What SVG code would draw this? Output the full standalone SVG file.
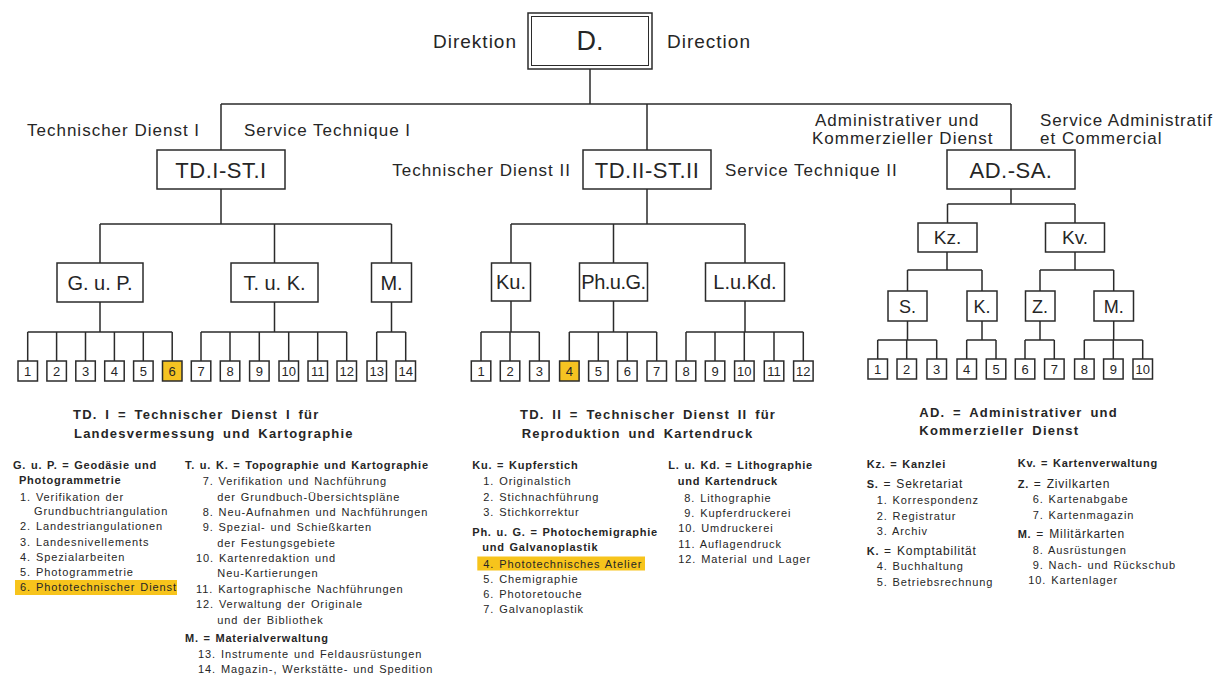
<svg xmlns="http://www.w3.org/2000/svg" width="1222" height="675" viewBox="0 0 1222 675">
<style>
.bx{fill:#fff;stroke:#2b2b2b;stroke-width:1.5}
.hl{fill:#f5c322;stroke:#2b2b2b;stroke-width:1.5}
.ln{fill:none;stroke:#2b2b2b;stroke-width:1.5}
text{font-family:"Liberation Sans",Arial,sans-serif;fill:#262626}
.lbl{font-size:17px;letter-spacing:1px}
.big{font-size:22px;text-anchor:middle;letter-spacing:0.5px}
.mid{font-size:20px;text-anchor:middle}
.sm{font-size:18px;text-anchor:middle}
.num{font-size:13px;text-anchor:middle}
.hd{font-size:13px;font-weight:bold;letter-spacing:1.2px;word-spacing:3px}
.b{font-size:11px;font-weight:bold;letter-spacing:0.75px;word-spacing:1px}
.r{font-size:11px;letter-spacing:0.9px;word-spacing:1px}
.r2{font-size:12px;letter-spacing:0.8px;font-weight:normal}
.mark{fill:#f7c41c}
</style>

<g id="connectors">
  <path class="ln" d="M590,69V104M221,104H1011M221,104V150M647,104V150M1011,104V150"/>
  <!-- TD I -->
  <path class="ln" d="M221,189V224M100,224H391.5M100,224V263M274.5,224V263M391.5,224V263"/>
  <path class="ln" d="M100,302V332M27.7,332H172.2M27.7,332V361M56.6,332V361M85.5,332V361M114.4,332V361M143.3,332V361M172.2,332V361"/>
  <path class="ln" d="M274.5,302V332M201,332H346.7M201,332V361M230,332V361M259.3,332V361M288.7,332V361M317.7,332V361M346.7,332V361"/>
  <path class="ln" d="M391.5,302V332M376.7,332H405.7M376.7,332V361M405.7,332V361"/>
  <!-- TD II -->
  <path class="ln" d="M647,189V224M511,224H745M511,224V263M613.5,224V263M745,224V263"/>
  <path class="ln" d="M511,301V332M481,332H539.3M481,332V361M510,332V361M539.3,332V361"/>
  <path class="ln" d="M613.5,301V332M569.3,332H656.7M569.3,332V361M598.3,332V361M627.3,332V361M656.7,332V361"/>
  <path class="ln" d="M745,301V332M686,332H803.3M686,332V361M715,332V361M744.3,332V361M774,332V361M803.3,332V361"/>
  <!-- AD -->
  <path class="ln" d="M1011,189V204M947.5,204H1075M947.5,204V223M1075,204V223"/>
  <path class="ln" d="M947,252V270M907.5,270H982M907.5,270V291M982,270V291"/>
  <path class="ln" d="M1075,252V270M1040,270H1113.7M1040,270V291M1113.7,270V291"/>
  <path class="ln" d="M907.5,321V340M877.7,340H936.7M877.7,340V359M906.7,340V359M936.7,340V359"/>
  <path class="ln" d="M982,321V340M966.7,340H996M966.7,340V359M996,340V359"/>
  <path class="ln" d="M1040,321V340M1025,340H1054.3M1025,340V359M1054.3,340V359"/>
  <path class="ln" d="M1113.7,321V340M1084.3,340H1142.7M1084.3,340V359M1113.3,340V359M1142.7,340V359"/>
</g>

<g id="top-labels">
  <text class="lbl" x="517" y="48" text-anchor="end" style="font-size:19px">Direktion</text>
  <text class="lbl" x="667" y="48" style="font-size:19px">Direction</text>
  <text class="lbl" x="27" y="136">Technischer Dienst I</text>
  <text class="lbl" x="244" y="136">Service Technique I</text>
  <text class="lbl" x="571" y="176" text-anchor="end">Technischer Dienst II</text>
  <text class="lbl" x="725" y="176">Service Technique II</text>
  <text class="lbl" x="815" y="126">Administrativer und</text>
  <text class="lbl" x="812" y="144">Kommerzieller Dienst</text>
  <text class="lbl" x="1040" y="126" style="letter-spacing:0.9px">Service Administratif</text>
  <text class="lbl" x="1040" y="144">et Commercial</text>
</g>

<g id="node-D">
  <rect class="bx" x="528" y="13" width="124" height="56"/>
  <rect class="ln" x="531.5" y="16.5" width="117" height="49" style="stroke-width:1"/>
  <text x="590" y="50" style="font-size:27px;text-anchor:middle">D.</text>
</g>
<g id="node-TDI"><rect class="bx" x="157" y="150" width="128" height="39"/><text class="big" x="221" y="177.5">TD.I-ST.I</text></g>
<g id="node-TDII"><rect class="bx" x="583" y="150" width="128" height="39"/><text class="big" x="647" y="177.5">TD.II-ST.II</text></g>
<g id="node-AD"><rect class="bx" x="947" y="150" width="128" height="39"/><text class="big" x="1011" y="177.5">AD.-SA.</text></g>

<g id="node-GuP"><rect class="bx" x="57" y="263" width="86" height="39"/><text class="mid" x="100" y="289.5">G. u. P.</text></g>
<g id="node-TuK"><rect class="bx" x="231" y="263" width="87" height="39"/><text class="mid" x="274.5" y="289.5">T. u. K.</text></g>
<g id="node-M1"><rect class="bx" x="371.5" y="263" width="40" height="39"/><text class="mid" x="391.5" y="289.5">M.</text></g>
<g id="node-Ku"><rect class="bx" x="491.5" y="263" width="39" height="38"/><text class="mid" x="511" y="289">Ku.</text></g>
<g id="node-PhuG"><rect class="bx" x="579.5" y="263" width="68" height="38"/><text class="mid" x="613.5" y="289" style="letter-spacing:-0.5px">Ph.u.G.</text></g>
<g id="node-LuKd"><rect class="bx" x="705.5" y="263" width="79" height="38"/><text class="mid" x="745" y="289">L.u.Kd.</text></g>
<g id="node-Kz"><rect class="bx" x="918" y="223" width="59" height="29"/><text class="sm" x="947.5" y="244" style="font-size:19px">Kz.</text></g>
<g id="node-Kv"><rect class="bx" x="1045.5" y="223" width="59" height="29"/><text class="sm" x="1075" y="244" style="font-size:19px">Kv.</text></g>
<g id="node-S"><rect class="bx" x="888" y="291" width="39" height="30"/><text class="sm" x="907.5" y="312.5">S.</text></g>
<g id="node-K"><rect class="bx" x="967" y="291" width="30" height="30"/><text class="sm" x="982" y="312.5">K.</text></g>
<g id="node-Z"><rect class="bx" x="1025.5" y="291" width="29.5" height="30"/><text class="sm" x="1040" y="312.5">Z.</text></g>
<g id="node-M2"><rect class="bx" x="1094" y="291" width="39.5" height="30"/><text class="sm" x="1113.7" y="312.5">M.</text></g>

<g id="units-TDI">
  <rect class="bx" x="18" y="361" width="19.5" height="20"/><text class="num" x="27.7" y="375.5">1</text>
  <rect class="bx" x="46.9" y="361" width="19.5" height="20"/><text class="num" x="56.6" y="375.5">2</text>
  <rect class="bx" x="75.8" y="361" width="19.5" height="20"/><text class="num" x="85.5" y="375.5">3</text>
  <rect class="bx" x="104.7" y="361" width="19.5" height="20"/><text class="num" x="114.4" y="375.5">4</text>
  <rect class="bx" x="133.6" y="361" width="19.5" height="20"/><text class="num" x="143.3" y="375.5">5</text>
  <rect class="hl" x="162.5" y="361" width="19.5" height="20"/><text class="num" x="172.2" y="375.5">6</text>
  <rect class="bx" x="191.3" y="361" width="19.5" height="20"/><text class="num" x="201" y="375.5">7</text>
  <rect class="bx" x="220.3" y="361" width="19.5" height="20"/><text class="num" x="230" y="375.5">8</text>
  <rect class="bx" x="249.6" y="361" width="19.5" height="20"/><text class="num" x="259.3" y="375.5">9</text>
  <rect class="bx" x="279" y="361" width="19.5" height="20"/><text class="num" x="288.7" y="375.5">10</text>
  <rect class="bx" x="308" y="361" width="19.5" height="20"/><text class="num" x="317.7" y="375.5">11</text>
  <rect class="bx" x="337" y="361" width="19.5" height="20"/><text class="num" x="346.7" y="375.5">12</text>
  <rect class="bx" x="367" y="361" width="19.5" height="20"/><text class="num" x="376.7" y="375.5">13</text>
  <rect class="bx" x="396" y="361" width="19.5" height="20"/><text class="num" x="405.7" y="375.5">14</text>
</g>
<g id="units-TDII">
  <rect class="bx" x="471.3" y="361" width="19.5" height="20"/><text class="num" x="481" y="375.5">1</text>
  <rect class="bx" x="500.3" y="361" width="19.5" height="20"/><text class="num" x="510" y="375.5">2</text>
  <rect class="bx" x="529.6" y="361" width="19.5" height="20"/><text class="num" x="539.3" y="375.5">3</text>
  <rect class="hl" x="559.6" y="361" width="19.5" height="20"/><text class="num" x="569.3" y="375.5">4</text>
  <rect class="bx" x="588.6" y="361" width="19.5" height="20"/><text class="num" x="598.3" y="375.5">5</text>
  <rect class="bx" x="617.6" y="361" width="19.5" height="20"/><text class="num" x="627.3" y="375.5">6</text>
  <rect class="bx" x="647" y="361" width="19.5" height="20"/><text class="num" x="656.7" y="375.5">7</text>
  <rect class="bx" x="676.3" y="361" width="19.5" height="20"/><text class="num" x="686" y="375.5">8</text>
  <rect class="bx" x="705.3" y="361" width="19.5" height="20"/><text class="num" x="715" y="375.5">9</text>
  <rect class="bx" x="734.6" y="361" width="19.5" height="20"/><text class="num" x="744.3" y="375.5">10</text>
  <rect class="bx" x="764.3" y="361" width="19.5" height="20"/><text class="num" x="774" y="375.5">11</text>
  <rect class="bx" x="793.6" y="361" width="19.5" height="20"/><text class="num" x="803.3" y="375.5">12</text>
</g>
<g id="units-AD">
  <rect class="bx" x="868" y="359" width="19.5" height="20"/><text class="num" x="877.7" y="373.5">1</text>
  <rect class="bx" x="897" y="359" width="19.5" height="20"/><text class="num" x="906.7" y="373.5">2</text>
  <rect class="bx" x="927" y="359" width="19.5" height="20"/><text class="num" x="936.7" y="373.5">3</text>
  <rect class="bx" x="957" y="359" width="19.5" height="20"/><text class="num" x="966.7" y="373.5">4</text>
  <rect class="bx" x="986.3" y="359" width="19.5" height="20"/><text class="num" x="996" y="373.5">5</text>
  <rect class="bx" x="1015.3" y="359" width="19.5" height="20"/><text class="num" x="1025" y="373.5">6</text>
  <rect class="bx" x="1044.6" y="359" width="19.5" height="20"/><text class="num" x="1054.3" y="373.5">7</text>
  <rect class="bx" x="1074.6" y="359" width="19.5" height="20"/><text class="num" x="1084.3" y="373.5">8</text>
  <rect class="bx" x="1103.6" y="359" width="19.5" height="20"/><text class="num" x="1113.3" y="373.5">9</text>
  <rect class="bx" x="1133" y="359" width="19.5" height="20"/><text class="num" x="1142.7" y="373.5">10</text>
</g>

<g id="legend-TDI">
  <text class="hd" x="73" y="418.5">TD. I = Technischer Dienst I für</text>
  <text class="hd" x="74" y="437.5">Landesvermessung und Kartographie</text>
  <text class="b" x="13" y="469">G. u. P. = Geodäsie und</text>
  <text class="b" x="19" y="484">Photogrammetrie</text>
  <text class="r" x="20" y="500.5">1. Verifikation der</text>
  <text class="r" x="34" y="515">Grundbuchtriangulation</text>
  <text class="r" x="20" y="530">2. Landestriangulationen</text>
  <text class="r" x="20" y="545.5">3. Landesnivellements</text>
  <text class="r" x="20" y="560.5">4. Spezialarbeiten</text>
  <text class="r" x="20" y="576">5. Photogrammetrie</text>
  <rect class="mark" x="15" y="580" width="162" height="15"/>
  <text class="r" x="20" y="591">6. Phototechnischer Dienst</text>
  <text class="b" x="185" y="469">T. u. K. = Topographie und Kartographie</text>
  <text class="r" x="202.7" y="485">7. Verifikation und Nachführung</text>
  <text class="r" x="217.3" y="501">der Grundbuch-Übersichtspläne</text>
  <text class="r" x="202.7" y="516">8. Neu-Aufnahmen und Nachführungen</text>
  <text class="r" x="202.7" y="531">9. Spezial- und Schießkarten</text>
  <text class="r" x="217.3" y="547">der Festungsgebiete</text>
  <text class="r" x="196" y="562">10. Kartenredaktion und</text>
  <text class="r" x="217.3" y="577">Neu-Kartierungen</text>
  <text class="r" x="196" y="593">11. Kartographische Nachführungen</text>
  <text class="r" x="196" y="608">12. Verwaltung der Originale</text>
  <text class="r" x="217.3" y="624">und der Bibliothek</text>
  <text class="b" x="185" y="642">M. = Materialverwaltung</text>
  <text class="r" x="198" y="658">13. Instrumente und Feldausrüstungen</text>
  <text class="r" x="198" y="672.5">14. Magazin-, Werkstätte- und Spedition</text>
</g>

<g id="legend-TDII">
  <text class="hd" x="520" y="418.5">TD. II = Technischer Dienst II für</text>
  <text class="hd" x="521.7" y="437.5">Reproduktion und Kartendruck</text>
  <text class="b" x="472.3" y="469">Ku. = Kupferstich</text>
  <text class="r" x="483.3" y="484.5">1. Originalstich</text>
  <text class="r" x="483.3" y="500.5">2. Stichnachführung</text>
  <text class="r" x="483.3" y="515.5">3. Stichkorrektur</text>
  <text class="b" x="472.3" y="535.5">Ph. u. G. = Photochemigraphie</text>
  <text class="b" x="482.3" y="551">und Galvanoplastik</text>
  <rect class="mark" x="477.3" y="556.5" width="167.7" height="14"/>
  <text class="r" x="483.3" y="567.5">4. Phototechnisches Atelier</text>
  <text class="r" x="483.3" y="582.5">5. Chemigraphie</text>
  <text class="r" x="483.3" y="597.5">6. Photoretouche</text>
  <text class="r" x="483.3" y="613">7. Galvanoplastik</text>
  <text class="b" x="668.3" y="469">L. u. Kd. = Lithographie</text>
  <text class="b" x="677.7" y="484.5">und Kartendruck</text>
  <text class="r" x="684.3" y="501.5">8. Lithographie</text>
  <text class="r" x="684.3" y="516.5">9. Kupferdruckerei</text>
  <text class="r" x="678.3" y="532">10. Umdruckerei</text>
  <text class="r" x="678.3" y="547.5">11. Auflagendruck</text>
  <text class="r" x="678.3" y="563">12. Material und Lager</text>
</g>

<g id="legend-AD">
  <text class="hd" x="919.3" y="416.5">AD. = Administrativer und</text>
  <text class="hd" x="919.3" y="435">Kommerzieller Dienst</text>
  <text class="b" x="866.7" y="467.5">Kz. = Kanzlei</text>
  <text class="b" x="866.7" y="488">S. <tspan class="r2">= Sekretariat</tspan></text>
  <text class="r" x="876.7" y="504">1. Korrespondenz</text>
  <text class="r" x="876.7" y="519.5">2. Registratur</text>
  <text class="r" x="876.7" y="535">3. Archiv</text>
  <text class="b" x="866.7" y="555">K. <tspan class="r2">= Komptabilität</tspan></text>
  <text class="r" x="876.7" y="570">4. Buchhaltung</text>
  <text class="r" x="876.7" y="585.5">5. Betriebsrechnung</text>
  <text class="b" x="1017.7" y="467">Kv. = Kartenverwaltung</text>
  <text class="b" x="1017.7" y="487.5">Z. <tspan class="r2">= Zivilkarten</tspan></text>
  <text class="r" x="1032.7" y="503">6. Kartenabgabe</text>
  <text class="r" x="1032.7" y="518.5">7. Kartenmagazin</text>
  <text class="b" x="1017.7" y="538">M. <tspan class="r2">= Militärkarten</tspan></text>
  <text class="r" x="1032.7" y="553.5">8. Ausrüstungen</text>
  <text class="r" x="1032.7" y="568.5">9. Nach- und Rückschub</text>
  <text class="r" x="1028.3" y="584">10. Kartenlager</text>
</g>
</svg>
